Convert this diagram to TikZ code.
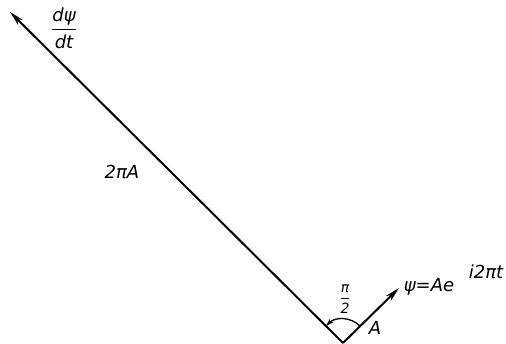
\documentclass[tikz,border=0pt]{standalone}
\usepackage{amsmath}
\usepackage{fontspec}
\setmainfont{DejaVu Sans}
\usetikzlibrary{arrows.meta,calc}
\begin{document}
\begin{tikzpicture}[x=1pt,y=1pt,
  vec/.style={line width=2pt,-{Stealth[length=15pt,width=7pt]}},
  lbl/.style={font=\fontsize{18}{20}\selectfont\itshape,inner sep=0pt},
  small/.style={font=\fontsize{14}{15}\selectfont\itshape,inner sep=0pt}]
\useasboundingbox (0,0) rectangle (506,344);
\coordinate (O) at (343,1);
\coordinate (P) at (10,332);
\coordinate (Q) at (399,56);
\draw[vec] (O) -- (P);
\draw[vec] (O) -- (Q);
\draw[line width=1.3pt,-{Stealth[length=8pt,width=5pt]}] ($(O)+(45:24)$) arc[start angle=45,end angle=135,radius=24];
\node[lbl] (dpsi) at (64,316) {$\genfrac{}{}{1.4pt}{0}{\mbox{\itshape dψ}}{\mbox{\itshape dt}}$};
\node[lbl] (amp) at (122,172) {2πA};
\node[lbl] (psi) at (429,57) {ψ=Ae};
\node[lbl] (expo) at (486,72) {i2πt};
\node[small] (half) at (345,45) {$\genfrac{}{}{1.2pt}{0}{\mbox{\itshape π}}{\mbox{\itshape 2}}$};
\node[lbl] (A) at (375,16) {A};
\end{tikzpicture}
\end{document}
